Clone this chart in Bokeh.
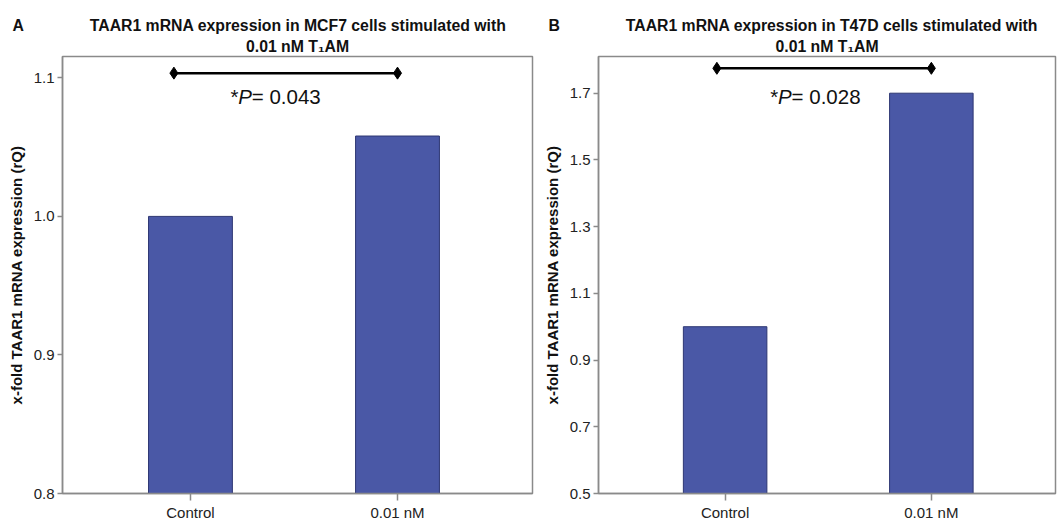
from bokeh.plotting import figure
from bokeh.models import Range1d, FixedTicker, Label, Title
from bokeh.layouts import row
from bokeh.embed import file_html
from bokeh.resources import INLINE

categories = ["Control", "0.01 nM"]
mcf7_values = [1.0, 1.058]
t47d_values = [1.0, 1.70]
mcf7_yticks = [0.8, 0.9, 1.0, 1.1]
t47d_yticks = [0.5, 0.7, 0.9, 1.1, 1.3, 1.5, 1.7]
mcf7_p = "0.043"
t47d_p = "0.028"
mcf7_title = ["TAAR1 mRNA expression in MCF7 cells stimulated with", "0.01 nM T\u2081AM"]
t47d_title = ["TAAR1 mRNA expression in T47D cells stimulated with", "0.01 nM T\u2081AM"]
ylabel = "x-fold TAAR1 mRNA expression (rQ)"

FONT = "Liberation Sans"
GRAY = "#8a8a8a"
BAR = "#4a58a6"
BAR_EDGE = "#2e3773"
NBSP = "\u00a0"


def panel(letter, titles, values, yticks, yr, xr, bracket_x, bracket_y,
          p_text, p_pos, width, bl, br):
    p = figure(width=width, height=523, output_backend="svg", toolbar_location=None,
               x_range=Range1d(*xr), y_range=Range1d(*yr),
               min_border_left=bl, min_border_right=br, min_border_top=56,
               min_border_bottom=27)
    p.xgrid.visible = False
    p.ygrid.visible = False
    p.outline_line_color = GRAY
    p.outline_line_width = 1.5
    p.background_fill_color = "white"
    p.border_fill_color = "white"

    idx = list(range(len(categories)))
    p.vbar(x=idx, top=values, bottom=0, width=0.405, fill_color=BAR,
           line_color=BAR_EDGE, line_width=1)

    # significance bracket
    p.line(x=bracket_x, y=[bracket_y, bracket_y], line_color="black", line_width=2.5)
    p.scatter(x=bracket_x, y=[bracket_y, bracket_y], marker="diamond", size=12,
              fill_color="black", line_color="black")

    # axes
    ya = p.yaxis[0]
    ya.ticker = FixedTicker(ticks=yticks)
    ya.major_label_overrides = {v: f"{v:.1f}" for v in yticks}
    ya.minor_tick_line_color = None
    ya.major_tick_in = 0
    ya.major_tick_out = 5
    ya.axis_line_color = GRAY
    ya.axis_line_width = 1.5
    ya.major_tick_line_color = GRAY
    ya.major_tick_line_width = 1.5
    ya.major_label_text_font = FONT
    ya.major_label_text_font_size = "15px"
    ya.major_label_text_color = "#222222"
    ya.major_label_standoff = 3
    ya.axis_label = ylabel
    ya.axis_label_text_font = FONT
    ya.axis_label_text_font_size = "15px"
    ya.axis_label_text_font_style = "bold"
    ya.axis_label_text_color = "#111111"
    ya.axis_label_standoff = 6

    xa = p.xaxis[0]
    xa.ticker = FixedTicker(ticks=idx)
    xa.major_label_overrides = {i: c for i, c in zip(idx, categories)}
    xa.minor_tick_line_color = None
    xa.major_tick_in = 0
    xa.major_tick_out = 7
    xa.axis_line_color = GRAY
    xa.axis_line_width = 1.5
    xa.major_tick_line_color = GRAY
    xa.major_tick_line_width = 1.5
    xa.major_label_text_font = FONT
    xa.major_label_text_font_size = "15px"
    xa.major_label_text_color = "#222222"
    xa.major_label_standoff = 3

    # P-value text
    px, py = p_pos
    common = dict(x=px, y=py, text_font=FONT, text_font_size="20.5px",
                  text_baseline="middle", text_align="left", text_color="#111111")
    p.add_layout(Label(text="*", x_offset=0, **common))
    p.add_layout(Label(text="P", x_offset=7.8, text_font_style="italic", **common))
    p.add_layout(Label(text="= " + p_text, x_offset=21.3, **common))

    # titles (added title sits closer to the plot)
    p.title = Title(text=letter + NBSP * 15 + titles[0], align="left",
                    offset=-50, text_font=FONT, text_font_size="15.8px",
                    text_font_style="bold", text_color="#111111", standoff=0)
    p.add_layout(Title(text=titles[1], align="center", text_font=FONT,
                       text_font_size="15.8px", text_font_style="bold",
                       text_color="#111111", standoff=4),
                 "above")
    return p


pa = panel("A", mcf7_title, mcf7_values, mcf7_yticks, (0.8, 1.1154), (-0.618, 1.652),
           [-0.08, 1.0], 1.1034, mcf7_p, (0.193, 1.0867), 540, 62, 8)
pb = panel("B", t47d_title, t47d_values, t47d_yticks, (0.5, 1.810), (-0.614, 1.602),
           [-0.04, 1.0], 1.7746, t47d_p, (0.219, 1.691), 517, 57, 2)

layout = row(pa, pb)
open("out.html", "w").write(file_html(layout, INLINE))
